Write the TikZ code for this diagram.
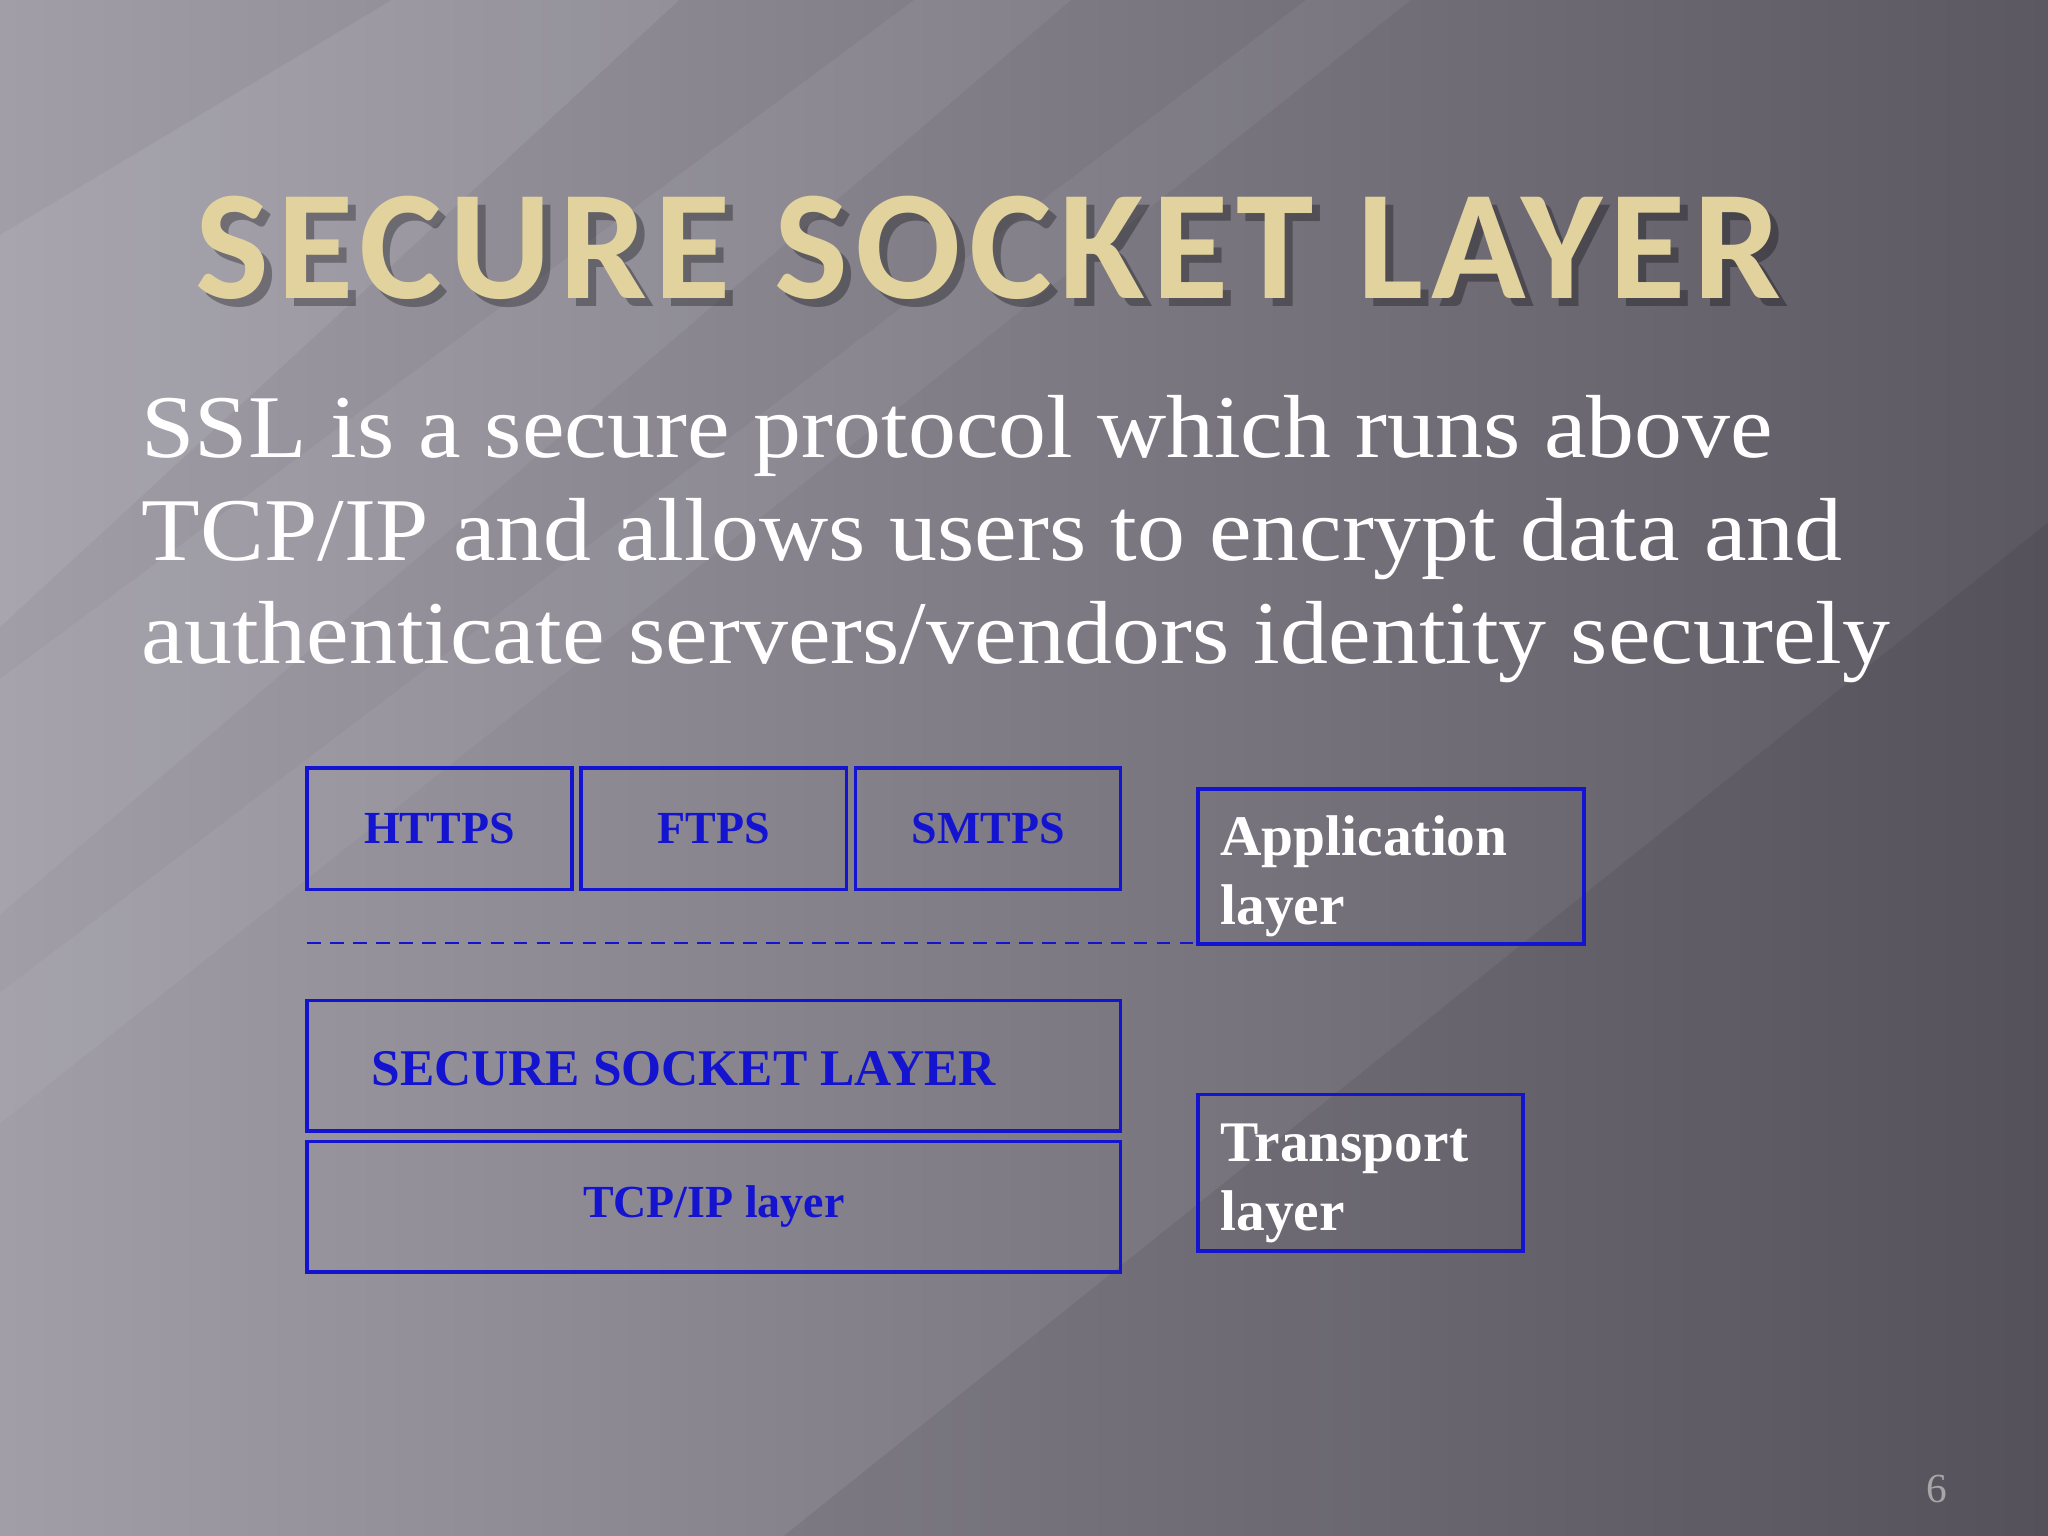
\documentclass[tikz,border=0pt]{standalone}
\usepackage{fontspec}
\setmainfont{Liberation Serif}
\newfontfamily\titlefont[LetterSpace=5]{Carlito}
\newfontfamily\bodyfont[FakeStretch=1.07]{Liberation Serif}
\usetikzlibrary{shadings}
\definecolor{bgdark}{HTML}{5C5862}
\definecolor{bglight}{HTML}{A19EA8}
\definecolor{gold}{HTML}{E2D39E}
\definecolor{boxblue}{HTML}{1414D0}
\tikzset{
  layerbox/.style={draw=boxblue, line width=0.8pt},
  lbl/.style={text=boxblue, font=\bfseries\fontsize{10pt}{12pt}\selectfont},
  sidelbl/.style={text=white, font=\bfseries\fontsize{12.5pt}{15pt}\selectfont, align=left, anchor=north west},
  ttl/.style={font=\titlefont\bfseries\fontsize{34pt}{38pt}\selectfont},
}
\begin{document}
\begin{tikzpicture}[x=0.01cm,y=-0.01cm]
\useasboundingbox (0,0) rectangle (1568,1176);
\shade[shading=axis, shading angle=-60, left color=bglight, right color=bgdark] (0,0) rectangle (1568,1176);
\fill[white, opacity=0.08] (0,180) -- (300,0) -- (520,0) -- (0,480) -- cycle;
\fill[white, opacity=0.06] (0,520) -- (700,0) -- (820,0) -- (0,700) -- cycle;
\fill[white, opacity=0.05] (0,760) -- (1000,0) -- (1080,0) -- (0,860) -- cycle;
\fill[black, opacity=0.07] (600,1176) -- (1568,400) -- (1568,1176) -- cycle;
% title
\node[text=black, opacity=0.3, ttl] at (763,196) {SECURE SOCKET LAYER};
\node (title) [text=gold, ttl] at (757,190) {SECURE SOCKET LAYER};
% body
\node (body) [text=white, anchor=north west, align=left, font=\bodyfont\fontsize{19.5pt}{22.5pt}\selectfont] at (96,290)
 {SSL is a secure protocol which runs above\\TCP/IP and allows users to encrypt data and\\authenticate servers/vendors identity securely};
% boxes
\draw[layerbox] (235,588) rectangle (438,681) node[midway, lbl] (https) {HTTPS};
\draw[layerbox] (445,588) rectangle (648,681) node[midway, lbl] (ftps) {FTPS};
\draw[layerbox] (655,588) rectangle (858,681) node[midway, lbl] (smtps) {SMTPS};
\draw[layerbox] (917,604) rectangle (1213,723);
\node (app) [sidelbl] at (922,612) {Application\\layer};
\coordinate (d1) at (235,722); \coordinate (d2) at (1180,722);
\draw[boxblue, dash pattern=on 3pt off 2pt, line width=0.5pt] (d1) -- (d2);
\draw[layerbox] (235,766) rectangle (858,866);
\node (ssl) [lbl, anchor=west, font=\bfseries\fontsize{11.2pt}{13pt}\selectfont] at (272,818) {SECURE SOCKET LAYER};
\draw[layerbox] (235,874) rectangle (858,974) node[midway, lbl, font=\bfseries\fontsize{10pt}{12pt}\selectfont] (tcp) {TCP/IP layer};
\draw[layerbox] (917,838) rectangle (1166,958);
\node (trans) [sidelbl] at (922,848) {Transport\\layer};
\node (pg) [text=gray!70!white, font=\fontsize{9pt}{10pt}\selectfont] at (1483,1140) {6};
\end{tikzpicture}
\end{document}
